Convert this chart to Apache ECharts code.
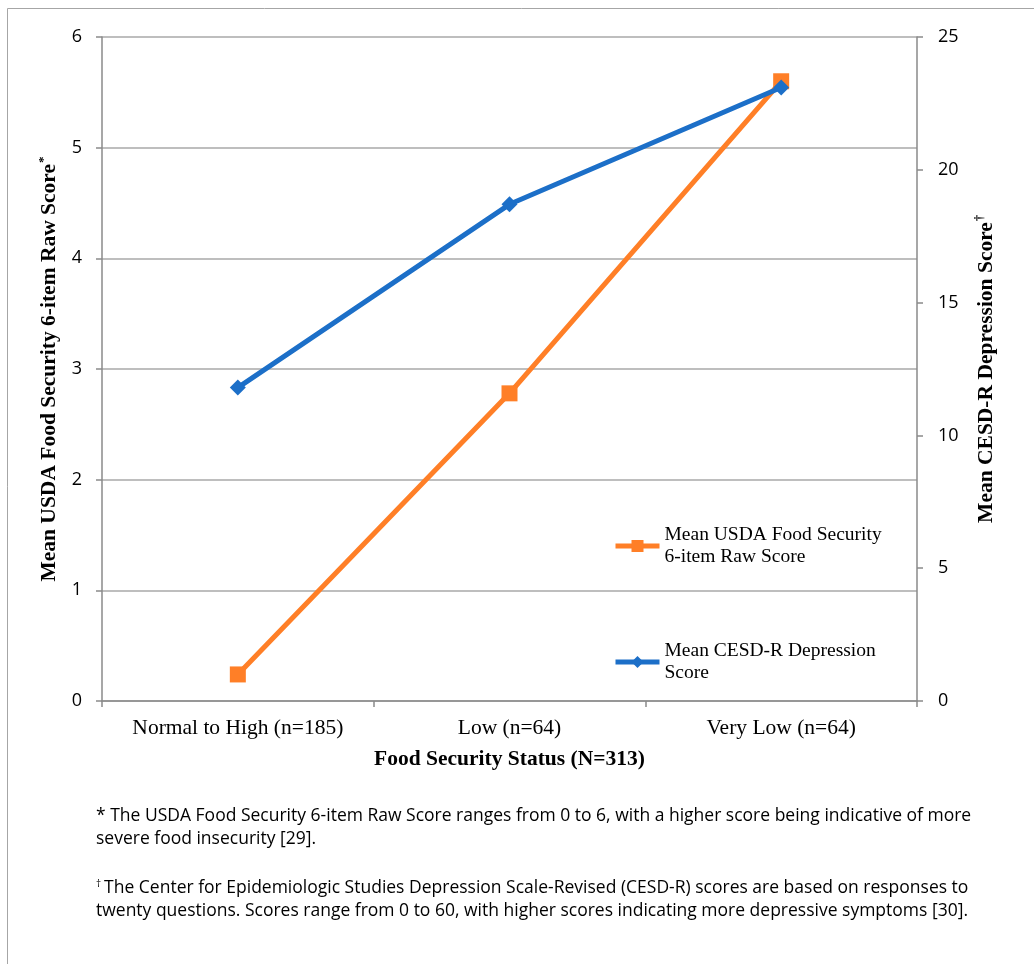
<!DOCTYPE html>
<html>
<head>
<meta charset="utf-8">
<script src="https://cdn.jsdelivr.net/npm/echarts@6/dist/echarts.min.js"></script>
<style>
  html, body { margin: 0; padding: 0; background: #fff; }
  #chart { width: 1034px; height: 964px; }
</style>
</head>
<body>
<div id="chart"></div>
<script>
// Food security status groups
const categories = ['Normal to High (n=185)', 'Low (n=64)', 'Very Low (n=64)'];
// Mean USDA Food Security 6-item raw score (left axis, 0–6)
const usdaScores = [0.24, 2.78, 5.60];
// Mean CESD-R depression score (right axis, 0–25)
const cesdScores = [11.8, 18.7, 23.1];
const leftTicks = [0, 1, 2, 3, 4, 5, 6];
const rightTicks = [0, 5, 10, 15, 20, 25];

const usdaName = 'Mean USDA Food Security\n6-item Raw Score';
const cesdName = 'Mean CESD-R Depression\nScore';

const serif = '"Liberation Serif", "Times New Roman", serif';
const sans = '"Open Sans", "Noto Sans", sans-serif';
const orange = '#FF7F27';
const blue = '#1C6FC8';

const chart = echarts.init(document.getElementById('chart'), null, { renderer: 'canvas' });

const legendBase = {
  orient: 'vertical',
  left: 613,
  padding: 0,
  itemWidth: 44,
  itemHeight: 15,
  lineStyle: { width: 5 },
  textStyle: {
    fontFamily: serif,
    fontSize: 19.5,
    color: '#000',
    lineHeight: 22,
    padding: [22, 0, 0, 0]
  }
};

const footStyle = { fontFamily: sans, fontSize: 17.5, fill: '#000', lineHeight: 23 };

chart.setOption({
  backgroundColor: '#fff',
  animation: false,
  grid: { left: 102, right: 117, top: 37, bottom: 263, containLabel: false },
  legend: [
    Object.assign({}, legendBase, { top: 513, data: [usdaName] }),
    Object.assign({}, legendBase, { top: 629, data: [cesdName] })
  ],
  xAxis: {
    type: 'category',
    data: categories,
    boundaryGap: true,
    name: 'Food Security Status (N=313)',
    nameLocation: 'middle',
    nameGap: 47,
    nameTextStyle: { fontFamily: serif, fontSize: 21.5, fontWeight: 'bold', color: '#000' },
    axisLine: { lineStyle: { color: '#8a8a8a', width: 1.5 } },
    axisTick: { show: true, interval: 0, alignWithLabel: false, length: 6, lineStyle: { color: '#8a8a8a', width: 1.5 } },
    axisLabel: { interval: 0, hideOverlap: false, fontFamily: serif, fontSize: 21.5, color: '#000', margin: 16 },
    splitLine: { show: false }
  },
  yAxis: [
    {
      type: 'value',
      position: 'left',
      min: leftTicks[0],
      max: leftTicks[leftTicks.length - 1],
      interval: 1,
      name: '{t|Mean USDA Food Security 6-item Raw Score}{s|*}',
      nameLocation: 'middle',
      nameRotate: 90,
      nameGap: 37,
      nameTextStyle: {
        rich: {
          t: { fontFamily: serif, fontSize: 21.5, fontWeight: 'bold', color: '#000' },
          s: { fontFamily: serif, fontSize: 13, fontWeight: 'bold', color: '#000', padding: [0, 0, 12, 1] }
        }
      },
      axisLine: { show: true, lineStyle: { color: '#8a8a8a', width: 1.5 } },
      axisTick: { show: true, length: 6, lineStyle: { color: '#8a8a8a', width: 1.5 } },
      axisLabel: { fontFamily: sans, fontSize: 18, color: '#000', margin: 20 },
      splitLine: { show: true, lineStyle: { color: '#a9a9a9', width: 1.5 } }
    },
    {
      type: 'value',
      position: 'right',
      min: rightTicks[0],
      max: rightTicks[rightTicks.length - 1],
      interval: 5,
      name: '{t|Mean CESD-R Depression Score}{s|†}',
      nameLocation: 'middle',
      nameRotate: 90,
      nameGap: 57,
      nameTextStyle: {
        rich: {
          t: { fontFamily: serif, fontSize: 21.5, fontWeight: 'bold', color: '#000' },
          s: { fontFamily: serif, fontSize: 12, fontWeight: 'bold', color: '#000', padding: [0, 0, 12, 1] }
        }
      },
      axisLine: { show: true, lineStyle: { color: '#8a8a8a', width: 1.5 } },
      axisTick: { show: true, length: 6, lineStyle: { color: '#8a8a8a', width: 1.5 } },
      axisLabel: { fontFamily: sans, fontSize: 18, color: '#000', margin: 21 },
      splitLine: { show: false }
    }
  ],
  series: [
    {
      name: usdaName,
      type: 'line',
      yAxisIndex: 0,
      data: usdaScores,
      symbol: 'rect',
      symbolSize: 16,
      lineStyle: { color: orange, width: 5 },
      itemStyle: { color: orange },
      z: 2
    },
    {
      name: cesdName,
      type: 'line',
      yAxisIndex: 1,
      data: cesdScores,
      symbol: 'diamond',
      symbolSize: 16,
      lineStyle: { color: blue, width: 5 },
      itemStyle: { color: blue },
      z: 3
    }
  ],
  graphic: [
    {
      type: 'rect',
      shape: { x: 7.5, y: 8.5, width: 1040, height: 1000 },
      style: { fill: 'none', stroke: '#a6a6a6', lineWidth: 1 },
      silent: true
    },
    {
      type: 'text',
      left: 96,
      top: 805,
      style: Object.assign({}, footStyle, {
        text: '* The USDA Food Security 6-item Raw Score ranges from 0 to 6, with a higher score being indicative of more\nsevere food insecurity [29].'
      })
    },
    {
      type: 'text',
      left: 96,
      top: 877,
      style: Object.assign({}, footStyle, {
        text: '{d|†}The Center for Epidemiologic Studies Depression Scale-Revised (CESD-R) scores are based on responses to\ntwenty questions. Scores range from 0 to 60, with higher scores indicating more depressive symptoms [30].',
        rich: {
          d: { fontFamily: sans, fontSize: 10, fill: '#000', padding: [0, 3, 9, 0] }
        }
      })
    }
  ]
});
</script>
</body>
</html>
